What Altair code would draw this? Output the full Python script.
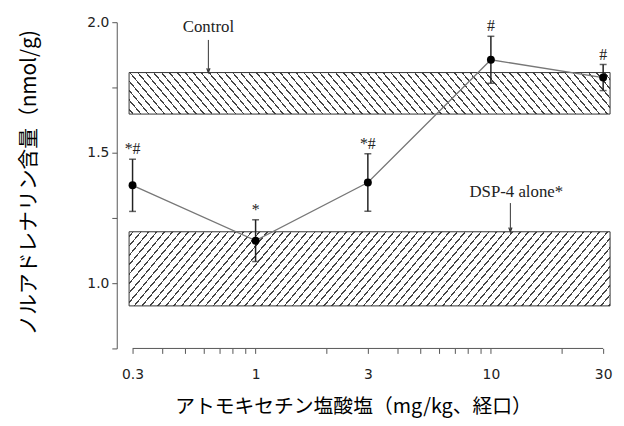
import math
import altair as alt
import pandas as pd

# ---- data ----
doses = [0.3, 1, 3, 10, 30]
means = [1.375, 1.163, 1.386, 1.856, 1.788]
sems = [0.10, 0.08, 0.11, 0.09, 0.05]
sig = ["*#", "*", "*#", "#", "#"]

band_names = ["Control", "DSP-4 alone*"]
band_lo = [1.648, 0.913]
band_hi = [1.807, 1.197]
band_x0 = [0.29, 0.29]
band_x1 = [32.1, 32.1]
arrow_x = [0.63, 12.1]
arrow_top = [1.932, 1.307]

x_ticks = [0.3, 0.4, 0.5, 0.6, 0.7, 0.8, 0.9, 1, 2, 3, 4, 5, 6, 7, 8, 9, 10, 20, 30]
x_labels = [0.3, 1, 3, 10, 30]
y_ticks = [0.75, 1.0, 1.25, 1.5, 1.75, 2.0]
y_labels = [1.0, 1.5, 2.0]

# ---- layout ----
W, H = 499, 330
XDOM = [0.257, 32.1]
YDOM = [0.75, 2.0]

def px_x(v):
    return (math.log10(v) - math.log10(XDOM[0])) / (math.log10(XDOM[1]) - math.log10(XDOM[0])) * W

def px_y(v):
    return (v - YDOM[0]) / (YDOM[1] - YDOM[0]) * H

def hatch(w, h, theta_deg, spacing, lw, direction, line="#444444"):
    th = math.radians(theta_deg)
    s, c = math.sin(th), math.cos(th)
    S = w * s + h * c
    k = S / (w * w * s * s + h * h * c * c)
    p, q = k * w * s, k * h * c
    d = spacing * s
    stops = [{"offset": 0, "color": "white"}]
    i = 0
    while True:
        center = (i + 0.5) * d
        a = (center - lw / 2) / S
        b = (center + lw / 2) / S
        if b >= 1:
            break
        stops += [
            {"offset": a, "color": "white"},
            {"offset": a, "color": line},
            {"offset": b, "color": line},
            {"offset": b, "color": "white"},
        ]
        i += 1
    stops.append({"offset": 1, "color": "white"})
    if direction == "/":
        x1, y1, x2, y2 = 0, 0, p, q
    else:
        x1, y1, x2, y2 = 0, 1, p, 1 - q
    return {"gradient": "linear", "x1": x1, "y1": y1, "x2": x2, "y2": y2, "stops": stops}

pts = pd.DataFrame({
    "dose": doses,
    "mean": means,
    "lo": [m - e for m, e in zip(means, sems)],
    "hi": [m + e for m, e in zip(means, sems)],
    "sig": sig,
})
bands = pd.DataFrame({
    "name": band_names, "lo": band_lo, "hi": band_hi,
    "x0": band_x0, "x1": band_x1, "ax": arrow_x, "atop": arrow_top,
})

xs = alt.Scale(type="log", domain=XDOM, nice=False)
ys = alt.Scale(domain=YDOM, nice=False, zero=False)

x_axis = alt.Axis(
    values=x_ticks,
    labelExpr="indexof(%s, datum.value) >= 0 ? datum.value : ''" % str(x_labels),
    domain=False, grid=False, tickSize=5, tickColor="#555", tickWidth=1,
    labelPadding=14, labelFont="DejaVu Sans", labelFontSize=14, labelColor="#222",
    labelOverlap=False, labelFlush=False, labelBound=False,
    title="アトモキセチン塩酸塩（mg/kg、経口）",
    titleFont="Noto Sans CJK JP", titleFontSize=20, titleFontWeight="normal",
    titleColor="#000", titleX=239, titleY=59, titleAlign="center", titleBaseline="middle",
)
y_axis = alt.Axis(
    values=y_ticks,
    labelExpr="indexof([1,1.5,2], datum.value) >= 0 ? format(datum.value, '.1f') : ''",
    grid=False, domainColor="#555", tickColor="#555", tickSize=5,
    labelPadding=3, labelFont="DejaVu Sans", labelFontSize=14, labelColor="#222",
    labelOverlap=False,
    title="ノルアドレナリン含量（nmol/g)",
    titleFont="Noto Sans CJK JP", titleFontSize=21, titleFontWeight="normal",
    titleColor="#000", titleX=-88, titleY=162, titleAngle=270,
    titleAlign="center", titleBaseline="middle",
)

layers = []

# hatched bands
for i, name in enumerate(band_names):
    wpx = px_x(band_x1[i]) - px_x(band_x0[i])
    hpx = px_y(band_hi[i]) - px_y(band_lo[i])
    direction = "\\" if i == 0 else "/"
    fill = hatch(wpx, hpx, 50, 8, 1.2, direction)
    layers.append(
        alt.Chart(bands.iloc[[i]]).mark_rect(fill=fill, stroke="#333", strokeWidth=1).encode(
            x=alt.X("x0:Q", scale=xs, axis=x_axis),
            x2="x1:Q",
            y=alt.Y("lo:Q", scale=ys, axis=y_axis),
            y2="hi:Q",
        )
    )

# x axis line
axis_line = pd.DataFrame({"a": [min(x_ticks)], "b": [max(x_ticks)], "y": [YDOM[0]]})
layers.append(
    alt.Chart(axis_line).mark_rule(color="#555", strokeWidth=1).encode(
        x=alt.X("a:Q", scale=xs), x2="b:Q", y=alt.Y("y:Q", scale=ys)
    )
)

# arrows + labels
layers.append(
    alt.Chart(bands).mark_rule(color="#333", strokeWidth=1).encode(
        x=alt.X("ax:Q", scale=xs), y=alt.Y("atop:Q", scale=ys), y2="hi:Q"
    )
)
layers.append(
    alt.Chart(bands).mark_point(
        shape="M -0.6 -1.6 L 0 0 L 0.6 -1.6", filled=False, stroke="#333", strokeWidth=1.2, size=30, opacity=1
    ).encode(x=alt.X("ax:Q", scale=xs), y=alt.Y("hi:Q", scale=ys))
)
layers.append(
    alt.Chart(bands.iloc[[0]]).mark_text(
        font="Liberation Serif", fontSize=17, baseline="bottom", dy=-4, color="#222"
    ).encode(x=alt.X("ax:Q", scale=xs), y=alt.Y("atop:Q", scale=ys), text="name:N")
)
layers.append(
    alt.Chart(bands.iloc[[1]]).mark_text(
        font="Liberation Serif", fontSize=17, baseline="bottom", dy=-2, dx=6, color="#222"
    ).encode(x=alt.X("ax:Q", scale=xs), y=alt.Y("atop:Q", scale=ys), text="name:N")
)

# data line, error bars, points
layers.append(
    alt.Chart(pts).mark_line(color="#777", strokeWidth=1.3).encode(
        x=alt.X("dose:Q", scale=xs), y=alt.Y("mean:Q", scale=ys)
    )
)
layers.append(
    alt.Chart(pts).mark_rule(color="#222", strokeWidth=1.5).encode(
        x=alt.X("dose:Q", scale=xs), y=alt.Y("lo:Q", scale=ys), y2="hi:Q"
    )
)
for col in ["lo", "hi"]:
    layers.append(
        alt.Chart(pts).mark_tick(color="#222", orient="horizontal", size=7, thickness=1.5).encode(
            x=alt.X("dose:Q", scale=xs), y=alt.Y(f"{col}:Q", scale=ys)
        )
    )
layers.append(
    alt.Chart(pts).mark_circle(color="#000", size=64, opacity=1).encode(
        x=alt.X("dose:Q", scale=xs), y=alt.Y("mean:Q", scale=ys)
    )
)
layers.append(
    alt.Chart(pts).mark_text(
        font="Liberation Serif", fontSize=16, baseline="alphabetic", dy=-5, color="#222"
    ).encode(x=alt.X("dose:Q", scale=xs), y=alt.Y("hi:Q", scale=ys), text="sig:N")
)

chart = alt.layer(*layers).properties(
    width=W, height=H,
    padding={"left": 110, "top": 12, "right": 6, "bottom": 68},
    autosize=alt.AutoSizeParams(type="none"),
    background="white",
).configure_view(stroke=None)

chart.save("out.html", embed_options={"renderer": "svg", "actions": False})
